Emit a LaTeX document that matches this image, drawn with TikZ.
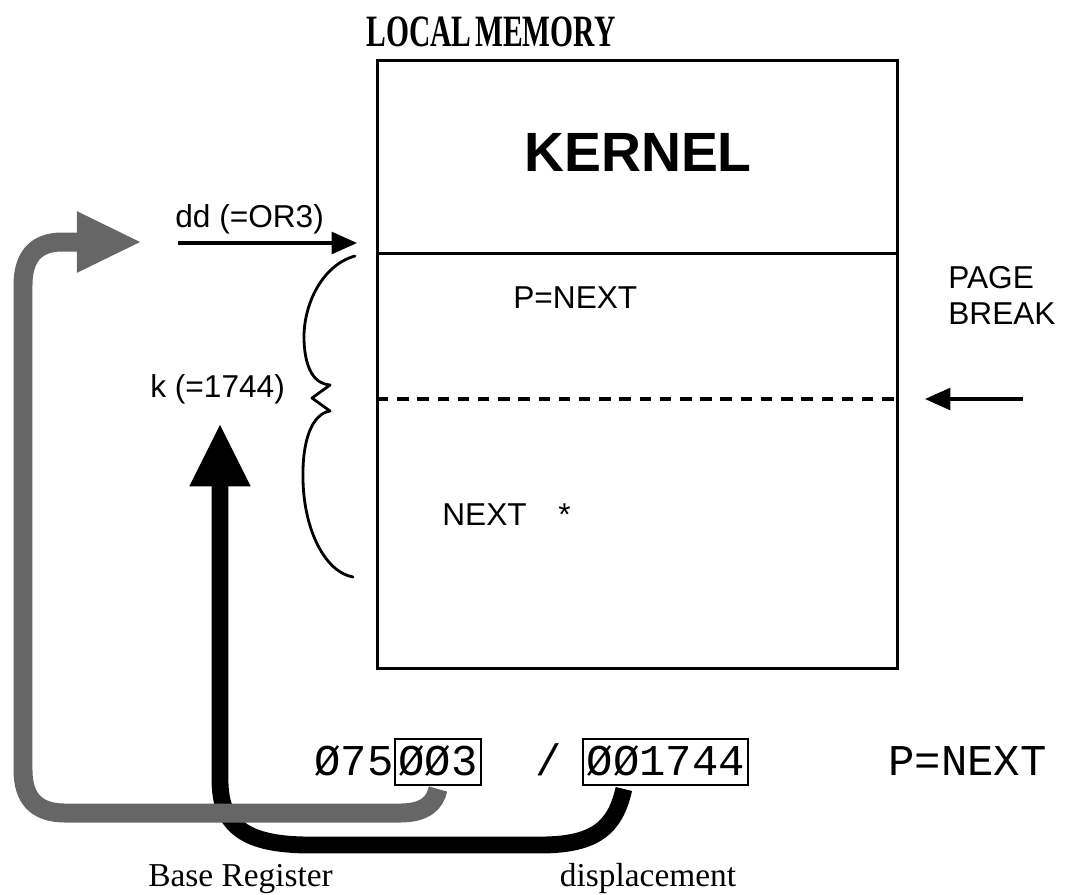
\documentclass[tikz,border=0pt]{standalone}
\usepackage{fontspec}
\setmainfont{Liberation Serif}
\setsansfont{Liberation Sans}
\setmonofont{Liberation Mono}
\usetikzlibrary{arrows.meta,calc}
\begin{document}
\begin{tikzpicture}[x=0.02cm,y=-0.02cm,
  lbl/.style={inner sep=0pt, font=\sffamily\fontsize{18}{21}\selectfont},
  seriflbl/.style={inner sep=0pt, font=\fontsize{19}{22}\selectfont},
  mono/.style={inner sep=0pt, font=\ttfamily\fontsize{25}{28}\selectfont, text height=17.5pt, text depth=2.8pt},
  regbox/.style={draw, line width=1.3pt, inner xsep=2pt, inner ysep=2.8pt},
  memline/.style={line width=1.7pt},
  thinarrow/.style={line width=1.8pt, -{Triangle[length=14.5pt,width=12.5pt]}},
  grayarrow/.style={line width=10.8pt, draw=black!60, -{Triangle[length=37pt,width=32pt]}},
  blackarrow/.style={line width=9.6pt, -{Triangle[length=36pt,width=32pt]}},
  bracestyle/.style={line width=1.6pt, line cap=round, line join=round},
]
\useasboundingbox (0,0) rectangle (1070,894);

% title
\node[inner sep=0pt, font=\bfseries\fontsize{25.5}{28}\selectfont, anchor=base] (title) at (491,46) {\scalebox{0.66}[1]{LOCAL\hspace{0.12em}MEMORY}};

% memory
\coordinate (mtl) at (377,60);
\coordinate (mbr) at (897,668);
\draw[memline] (mtl) rectangle (mbr);
\coordinate (kl) at (377,253);
\coordinate (kr) at (897,253);
\draw[memline] (kl) -- (kr);
\node[inner sep=0pt, font=\sffamily\bfseries\fontsize{31.5}{36}\selectfont] (kernel) at (638,152) {KERNEL};
\coordinate (pbl) at (377,399);
\coordinate (pbr) at (897,399);
\draw[line width=1.8pt, dash pattern=on 6.5pt off 5pt] (pbl) -- (pbr);

\node[lbl, anchor=base west] (pnext) at (513,308) {P=NEXT};
\node[lbl, anchor=base west] (next) at (442,525) {NEXT};
\node[lbl, anchor=base west] (star) at (558,525) {*};

% page break
\node[lbl, anchor=base west] (page) at (948,288) {PAGE};
\node[lbl, anchor=base west] (brk) at (948,324) {BREAK};
\coordinate (pbtail) at (1023,399);
\coordinate (pbtip) at (925,399);
\draw[thinarrow] (pbtail) -- (pbtip);

% dd
\node[lbl, anchor=base west] (dd) at (175,227) {dd (=OR3)};
\coordinate (ddtail) at (178,243);
\coordinate (ddtip) at (357,243);
\draw[thinarrow] (ddtail) -- (ddtip);

% k brace
\node[lbl, anchor=base west] (k) at (150,397) {k (=1744)};
\coordinate (brtop) at (355,256);
\coordinate (brtip) at (312,398);
\coordinate (brbot) at (353,577);
\draw[bracestyle] (brtop) .. controls (322,265) and (303,305) .. (304,340)
  .. controls (305,370) and (315,384) .. (330,385) -- (brtip) -- (330,411)
  .. controls (312,414) and (302,440) .. (303,480)
  .. controls (304,530) and (325,572) .. (brbot);

% bottom address
\node[mono, anchor=base west] (pre) at (314,775) {Ø75};
\node[mono, regbox, anchor=base west] (reg) at (pre.base east) {ØØ3};
\node[mono, anchor=base west] (slash) at (535,775) {/};
\node[mono, regbox, anchor=base west] (disp) at (582,775) {ØØ1744};
\node[mono, anchor=base west] (pn2) at (888,775) {P=NEXT};

% thick arrows
\coordinate (btip) at (220,423);
\coordinate (bstart) at ($(disp.south west)!0.25!(disp.south east)+(0,3)$);
\draw[blackarrow] (bstart) .. controls (615,828) and (595,845) .. (540,845)
  -- (310,845) .. controls (245,845) and (220,826) .. (220,780) -- (btip);
\coordinate (gtip) at (142,242);
\draw[grayarrow] ($(reg.south)+(0,3)$) .. controls (435,803) and (425,813) .. (400,813)
  -- (65,813) .. controls (35,813) and (23,797) .. (23,770) -- (23,285)
  .. controls (23,258) and (35,242) .. (62,242) -- (gtip);

% bottom labels
\node[seriflbl, anchor=base west] (basereg) at (148,886) {Base Register};
\node[seriflbl, anchor=base] (displ) at (648,886) {displacement};
\end{tikzpicture}
\end{document}
